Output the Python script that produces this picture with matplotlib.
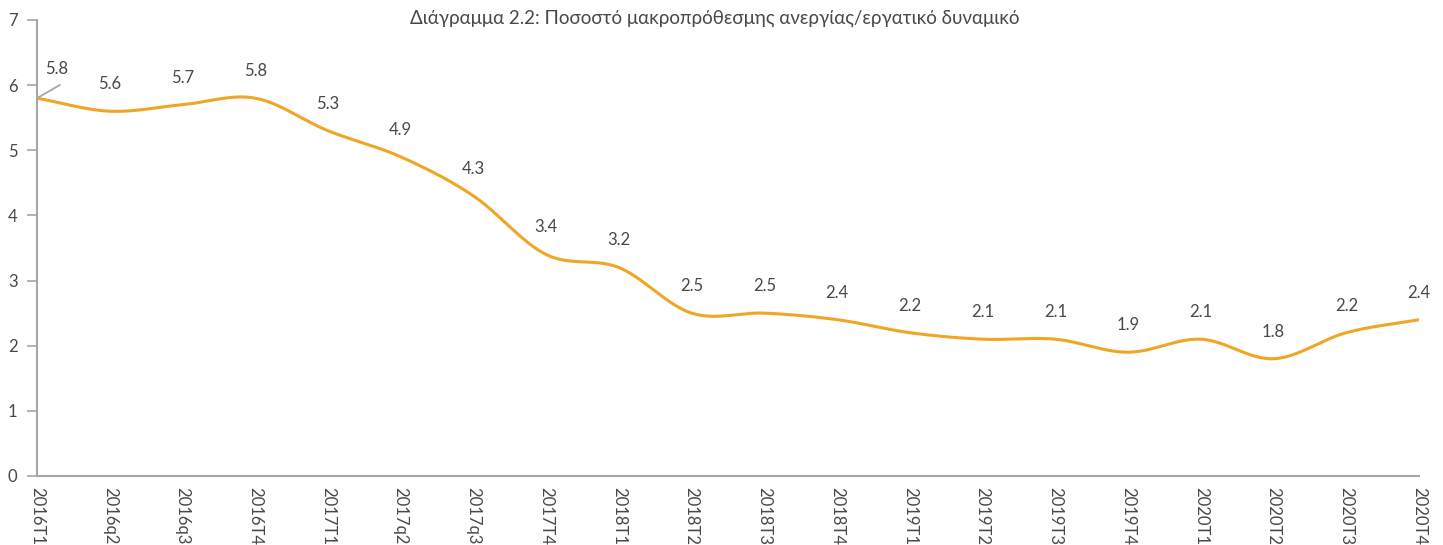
import numpy as np
import matplotlib
matplotlib.use('Agg')
import matplotlib.pyplot as plt

quarters = ['2016Τ1', '2016q2', '2016q3', '2016Τ4', '2017Τ1', '2017q2', '2017q3', '2017Τ4',
            '2018Τ1', '2018Τ2', '2018Τ3', '2018Τ4', '2019Τ1', '2019Τ2', '2019Τ3', '2019Τ4',
            '2020Τ1', '2020Τ2', '2020Τ3', '2020Τ4']
rate = [5.8, 5.6, 5.7, 5.8, 5.3, 4.9, 4.3, 3.4, 3.2, 2.5, 2.5, 2.4, 2.2, 2.1, 2.1, 1.9,
        2.1, 1.8, 2.2, 2.4]
title = 'Διάγραμμα 2.2: Ποσοστό μακροπρόθεσμης ανεργίας/εργατικό δυναμικό'

LINE = '#F0A524'
AXIS = '#A6A6A6'
TEXT = '#484848'

plt.rcParams['font.family'] = ['Lato', 'DejaVu Sans']


def smooth(xs, ys, n=30):
    # catmull-rom style smoothing like the spreadsheet's smoothed line
    xs = np.asarray(xs, float)
    ys = np.asarray(ys, float)
    px = np.concatenate([[2 * xs[0] - xs[1]], xs, [2 * xs[-1] - xs[-2]]])
    py = np.concatenate([[2 * ys[0] - ys[1]], ys, [2 * ys[-1] - ys[-2]]])
    outx, outy = [], []
    t = np.linspace(0, 1, n)
    h00 = 2 * t**3 - 3 * t**2 + 1
    h10 = t**3 - 2 * t**2 + t
    h01 = -2 * t**3 + 3 * t**2
    h11 = t**3 - t**2
    for i in range(1, len(px) - 2):
        for arr, out in ((px, outx), (py, outy)):
            p0, p1, p2, p3 = arr[i - 1], arr[i], arr[i + 1], arr[i + 2]
            m1 = (p2 - p0) / 2
            m2 = (p3 - p1) / 2
            out.extend(h00 * p1 + h10 * m1 + h01 * p2 + h11 * m2)
    return outx, outy


fig = plt.figure(figsize=(14.43, 5.45), dpi=100)
ax = fig.add_axes([37 / 1443, 69 / 545, (1419 - 37) / 1443, 456 / 545])

x = np.arange(len(quarters))
sx, sy = smooth(x, rate)
ax.plot(sx, sy, color=LINE, lw=2.2, solid_capstyle='round', zorder=3)

for i, v in enumerate(rate):
    if i == 0:
        # leader line for the first label
        ax.annotate('', xy=(i, v), xytext=(16.5, 9.5), textcoords='offset points',
                    arrowprops=dict(arrowstyle='-', color=AXIS, lw=1.3, shrinkA=0, shrinkB=0))
        ax.annotate(f'{v:.1f}', xy=(i, v), xytext=(14.5, 21), textcoords='offset points',
                    ha='center', va='center', fontsize=12, color=TEXT)
    else:
        ax.annotate(f'{v:.1f}', xy=(i, v), xytext=(0, 19.5), textcoords='offset points',
                    ha='center', va='center', fontsize=12, color=TEXT)

ax.set_xlim(0, len(quarters) - 1)
ax.set_ylim(0, 7)
ax.set_yticks(range(8))
ax.set_xticks(x)
ax.set_xticklabels(quarters, rotation=270, fontsize=12, color=TEXT)
ax.tick_params(axis='x', length=0, pad=8)
ax.tick_params(axis='y', length=7, width=1.2, color=AXIS, labelsize=12, labelcolor=TEXT, pad=7)
for s in ['top', 'right']:
    ax.spines[s].set_visible(False)
for s in ['left', 'bottom']:
    ax.spines[s].set_color(AXIS)
    ax.spines[s].set_linewidth(1.5)

fig.text(715 / 1443, 1 - 18 / 545, title, ha='center', va='center', fontsize=13.5, color=TEXT)

fig.savefig('out.png', dpi=100)
